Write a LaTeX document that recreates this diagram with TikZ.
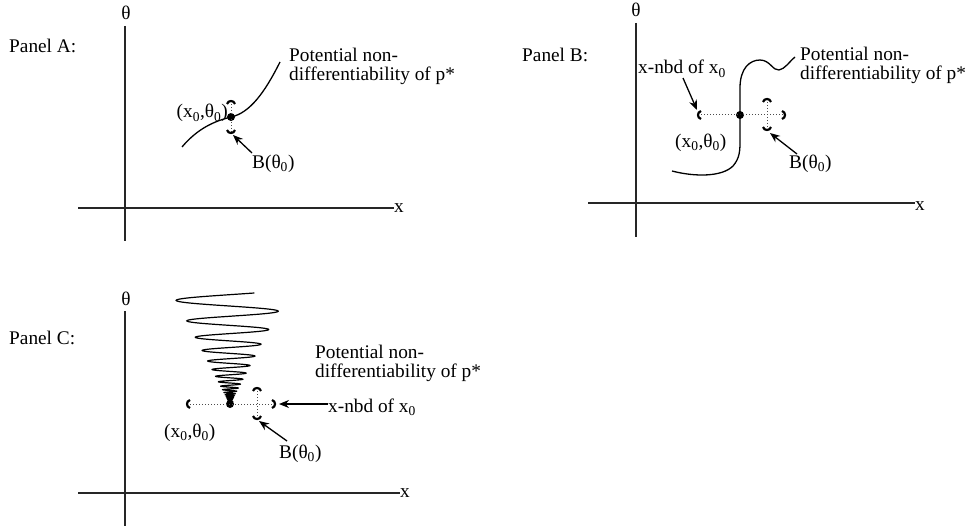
\documentclass[tikz,border=0pt]{standalone}
\usepackage{fontspec}
\setmainfont{Liberation Serif}
\usetikzlibrary{arrows.meta}
\begin{document}
\begin{tikzpicture}[x=1pt,y=-1pt,
  lbl/.style={inner sep=0pt,font=\fontsize{19.3}{19.3}\selectfont},
  axis/.style={line width=1.3pt, draw=black!85},
  crv/.style={line width=1.3pt},
  brk/.style={line width=2.2pt},
  dotline/.style={line width=1pt, dotted, draw=black!70},
  arr/.style={line width=1.3pt, -{Stealth[length=10pt,width=8pt]}},
  dotmark/.style={circle, fill=black, inner sep=0pt, minimum size=8pt},
  brl/.pic={\draw[brk] (3,-4) .. controls (-1,-3) and (-1,3) .. (3,4);},
  brr/.pic={\draw[brk] (-3,-4) .. controls (1,-3) and (1,3) .. (-3,4);},
  brt/.pic={\draw[brk] (-4,3) .. controls (-3,-1) and (3,-1) .. (4,3);},
  brb/.pic={\draw[brk] (-4,-3) .. controls (-3,1) and (3,1) .. (4,-3);}
]
\useasboundingbox (0,0) rectangle (980,532);

% ---------------- Panel A ----------------
\node[lbl, anchor=base west] (panA) at (9,53) {Panel A:};
\node[lbl, anchor=base] (thA) at (126,20) {θ};
\node[lbl, anchor=base west] (xA) at (394,212) {x};
\coordinate (vAtop) at (125,26);
\coordinate (vAbot) at (125,241);
\coordinate (hAl) at (78,208);
\draw[axis] (vAtop) -- (vAbot);
\draw[axis] (hAl) -- (xA.west |- hAl);

\node[dotmark] (dotA) at (231,117) {};
\coordinate (topA) at (231,101);
\coordinate (botA) at (231,133);
\draw[dotline] (topA) -- (botA);
\pic at (topA) {brt};
\pic at (botA) {brb};
\draw[crv] (182,147) .. controls (198,128) and (215,121) .. (dotA.center)
  .. controls (250,113) and (265,92) .. (280,62);

\node[lbl, anchor=base east] (ptA) at (228,118) {(x\textsubscript{0},θ\textsubscript{0})};
\node[lbl, anchor=base west] (bA) at (252,168) {B(θ\textsubscript{0})};
\node[lbl, anchor=base west] (potA1) at (289,62) {Potential non-};
\node[lbl, anchor=base west] (potA2) at (289,81) {differentiability of p*};
\coordinate (tailA) at (252,153);
\coordinate (tipA) at (233,135);
\draw[arr] (tailA) -- (tipA);

% ---------------- Panel B ----------------
\node[lbl, anchor=base west] (panB) at (522,62) {Panel B:};
\node[lbl, anchor=base] (thB) at (636,17) {θ};
\node[lbl, anchor=base west] (xB) at (915,210) {x};
\coordinate (vBtop) at (636,23);
\coordinate (vBbot) at (636,237);
\coordinate (hBl) at (588,203);
\draw[axis] (vBtop) -- (vBbot);
\draw[axis] (hBl) -- (xB.west |- hBl);

\node[dotmark] (dotB) at (740,115) {};
\coordinate (leftB) at (698,115);
\coordinate (rightB) at (785,115);
\coordinate (topB) at (767,99);
\coordinate (botB) at (767,130);
\draw[dotline] (leftB) -- (rightB);
\draw[dotline] (topB) -- (botB);
\pic at (leftB) {brl};
\pic at (rightB) {brr};
\pic at (topB) {brt};
\pic at (botB) {brb};
\draw[crv] (672,171) .. controls (695,177) and (722,177) .. (733,166)
  .. controls (740,158) and (740,150) .. (740,140) -- (740,88)
  .. controls (740,68) and (750,60) .. (760,60)
  .. controls (770,60) and (773,71) .. (779,70)
  .. controls (785,69) and (789,62) .. (795,57);

\node[lbl, anchor=base west] (nbdB) at (638,74) {x-nbd of x\textsubscript{0}};
\node[lbl, anchor=base west] (ptB) at (675,147) {(x\textsubscript{0},θ\textsubscript{0})};
\node[lbl, anchor=base west] (bB) at (789,168) {B(θ\textsubscript{0})};
\node[lbl, anchor=base west] (potB1) at (800,61) {Potential non-};
\node[lbl, anchor=base west] (potB2) at (800,80) {differentiability of p*};
\coordinate (tailB1) at (683,78);
\coordinate (tipB1) at (697,110);
\coordinate (tailB2) at (797,154);
\coordinate (tipB2) at (770,133);
\draw[arr] (tailB1) -- (tipB1);
\draw[arr] (tailB2) -- (tipB2);

% ---------------- Panel C ----------------
\node[lbl, anchor=base west] (panC) at (9,344) {Panel C:};
\node[lbl, anchor=base] (thC) at (126,305) {θ};
\node[lbl, anchor=base west] (xC) at (400,497) {x};
\coordinate (vCtop) at (125,311);
\coordinate (vCbot) at (125,526);
\coordinate (hCl) at (78,493);
\draw[axis] (vCtop) -- (vCbot);
\draw[axis] (hCl) -- (xC.west |- hCl);

\draw[crv, line width=1.2pt] plot[domain=155:7200, samples=1000]
  ({230+0.52*111*exp(-0.22*(\x-155)/360)*sin(\x)}, {404-111*exp(-0.22*(\x-155)/360)});
\node[dotmark] (dotC) at (230,404) {};
\coordinate (leftC) at (187,404);
\coordinate (rightC) at (275,404);
\coordinate (topC) at (257,388);
\coordinate (botC) at (257,419);
\draw[dotline] (leftC) -- (rightC);
\draw[dotline] (topC) -- (botC);
\pic at (leftC) {brl};
\pic at (rightC) {brr};
\pic at (topC) {brt};
\pic at (botC) {brb};

\node[lbl, anchor=base west] (potC1) at (315,358) {Potential non-};
\node[lbl, anchor=base west] (potC2) at (315,377) {differentiability of p*};
\node[lbl, anchor=base west] (nbdC) at (328,412) {x-nbd of x\textsubscript{0}};
\node[lbl, anchor=base west] (ptC) at (164,437) {(x\textsubscript{0},θ\textsubscript{0})};
\node[lbl, anchor=base west] (bC) at (279,458) {B(θ\textsubscript{0})};
\coordinate (tipC1) at (279,404);
\coordinate (tailC2) at (287,441);
\coordinate (tipC2) at (259,421);
\draw[arr] (nbdC.west |- tipC1) -- (tipC1);
\draw[arr] (tailC2) -- (tipC2);
\end{tikzpicture}
\end{document}
